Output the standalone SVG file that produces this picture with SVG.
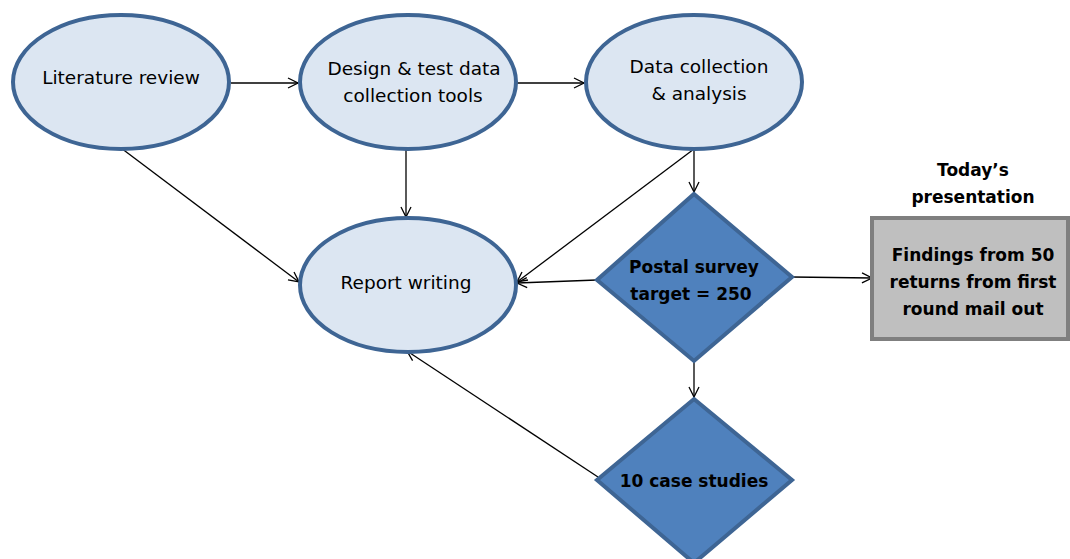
<svg xmlns="http://www.w3.org/2000/svg" width="1070" height="559" viewBox="0 0 1070 559">
<defs>
<marker id="arr" markerWidth="12" markerHeight="12" refX="11" refY="6" orient="auto" markerUnits="userSpaceOnUse">
<path d="M1,1 L11,6 L1,11" fill="none" stroke="#000" stroke-width="1.3"/>
</marker>
<style>
.ell{fill:#dce6f2;stroke:#3e6594;stroke-width:4}
.dia{fill:#4f81bd;stroke:#3e6594;stroke-width:4}
.box{fill:#bfbfbf;stroke:#7f7f7f;stroke-width:4}
.t{font-family:"DejaVu Sans","Liberation Sans",sans-serif;font-size:18.5px;fill:#000;text-anchor:middle}
.b{font-family:"DejaVu Sans","Liberation Sans",sans-serif;font-size:17px;font-weight:bold;fill:#000;text-anchor:middle}
.c{stroke:#000;stroke-width:1.3;fill:none;marker-end:url(#arr)}
</style>
</defs>
<g id="connectors">
<line class="c" x1="231" y1="83" x2="298" y2="83"/>
<line class="c" x1="517" y1="83" x2="584" y2="83"/>
<line class="c" x1="121" y1="148" x2="299" y2="282"/>
<line class="c" x1="406" y1="150" x2="406" y2="217"/>
<line class="c" x1="694" y1="149" x2="517" y2="282"/>
<line class="c" x1="694" y1="149" x2="694" y2="192"/>
<line class="c" x1="597" y1="280" x2="517" y2="283"/>
<line class="c" x1="792" y1="277" x2="872" y2="278"/>
<line class="c" x1="694" y1="362" x2="694" y2="397"/>
<line class="c" x1="598" y1="477" x2="407" y2="351"/>
</g>
<g id="literature-review">
<ellipse class="ell" cx="121" cy="82" rx="108" ry="67"/>
<text class="t" x="121" y="84">Literature review</text>
</g>
<g id="design-test">
<ellipse class="ell" cx="408" cy="82" rx="108" ry="67"/>
<text class="t" x="414" y="75">Design &amp; test data</text>
<text class="t" x="413" y="102">collection tools</text>
</g>
<g id="data-collection">
<ellipse class="ell" cx="694" cy="82" rx="108" ry="67"/>
<text class="t" x="699" y="73">Data collection</text>
<text class="t" x="699" y="100">&amp; analysis</text>
</g>
<g id="report-writing">
<ellipse class="ell" cx="408" cy="285" rx="108" ry="67"/>
<text class="t" x="406" y="289">Report writing</text>
</g>
<g id="postal-survey">
<polygon class="dia" points="694,194 792,277 694,361 597,280"/>
<text class="b" x="694" y="273">Postal survey</text>
<text class="b" x="691" y="300">target = 250</text>
</g>
<g id="case-studies">
<polygon class="dia" points="694,399 792,480 694,563 597,480"/>
<text class="b" x="694" y="487">10 case studies</text>
</g>
<g id="todays-presentation">
<text class="b" x="973" y="176">Today’s</text>
<text class="b" x="973" y="203">presentation</text>
</g>
<g id="findings">
<rect class="box" x="872" y="218" width="196" height="121"/>
<text class="b" x="973" y="261">Findings from 50</text>
<text class="b" x="973" y="288">returns from first</text>
<text class="b" x="973" y="315">round mail out</text>
</g>
</svg>
